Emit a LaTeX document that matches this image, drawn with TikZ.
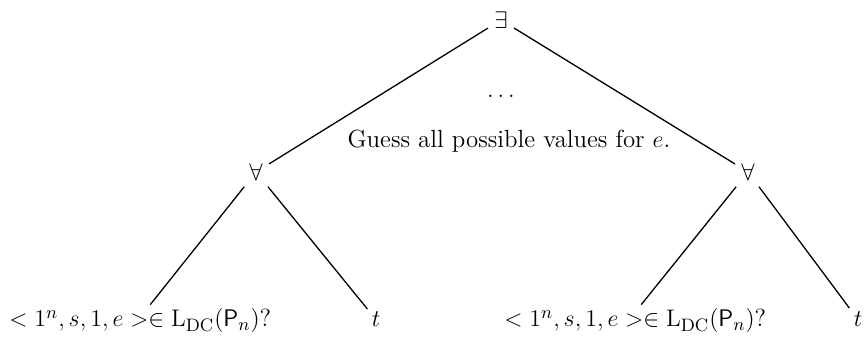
\documentclass[tikz,border=0pt]{standalone}
\usepackage{amsmath,amssymb}

\begin{document}
\begin{tikzpicture}[
    every node/.style={font=\fontsize{12.4}{15}\selectfont,inner sep=2pt},
    quant/.style={inner sep=3pt},
    leaf/.style={anchor=base west},
    edge/.style={line width=0.65pt},
    x=0.5pt,y=-0.5pt,
  ]
    \useasboundingbox (0,0) rectangle (864,341);
    \node[quant] (ex)  at (501,20)  {$\exists$};
    \node[anchor=base] (dots)  at (501,98)  {$\ldots$};
    \node[anchor=base] (guess) at (509,148) {Guess all possible values for $e$.};
    \node[quant] (faL) at (256,172) {$\forall$};
    \node[quant] (faR) at (748,172) {$\forall$};
    \node[leaf] (inL) at (5,327)   {$<1^n,s,1,e>\in\mathrm{L}_{\mathrm{DC}}(\mathsf{P}_n)$?};
    \node[leaf] (inR) at (500,327) {$<1^n,s,1,e>\in\mathrm{L}_{\mathrm{DC}}(\mathsf{P}_n)$?};
    \node[anchor=base] (tL) at (376,327) {$t$};
    \node[anchor=base] (tR) at (858,327) {$t$};
    \draw[edge] (ex) -- (faL);
    \draw[edge] (ex) -- (faR);
    \draw[edge] (faL) -- ([xshift=5pt]inL.north);
    \draw[edge] (faL) -- (tL);
    \draw[edge] (faR) -- ([xshift=3pt]inR.north);
    \draw[edge] (faR) -- (tR);
  \end{tikzpicture}
\end{document}
